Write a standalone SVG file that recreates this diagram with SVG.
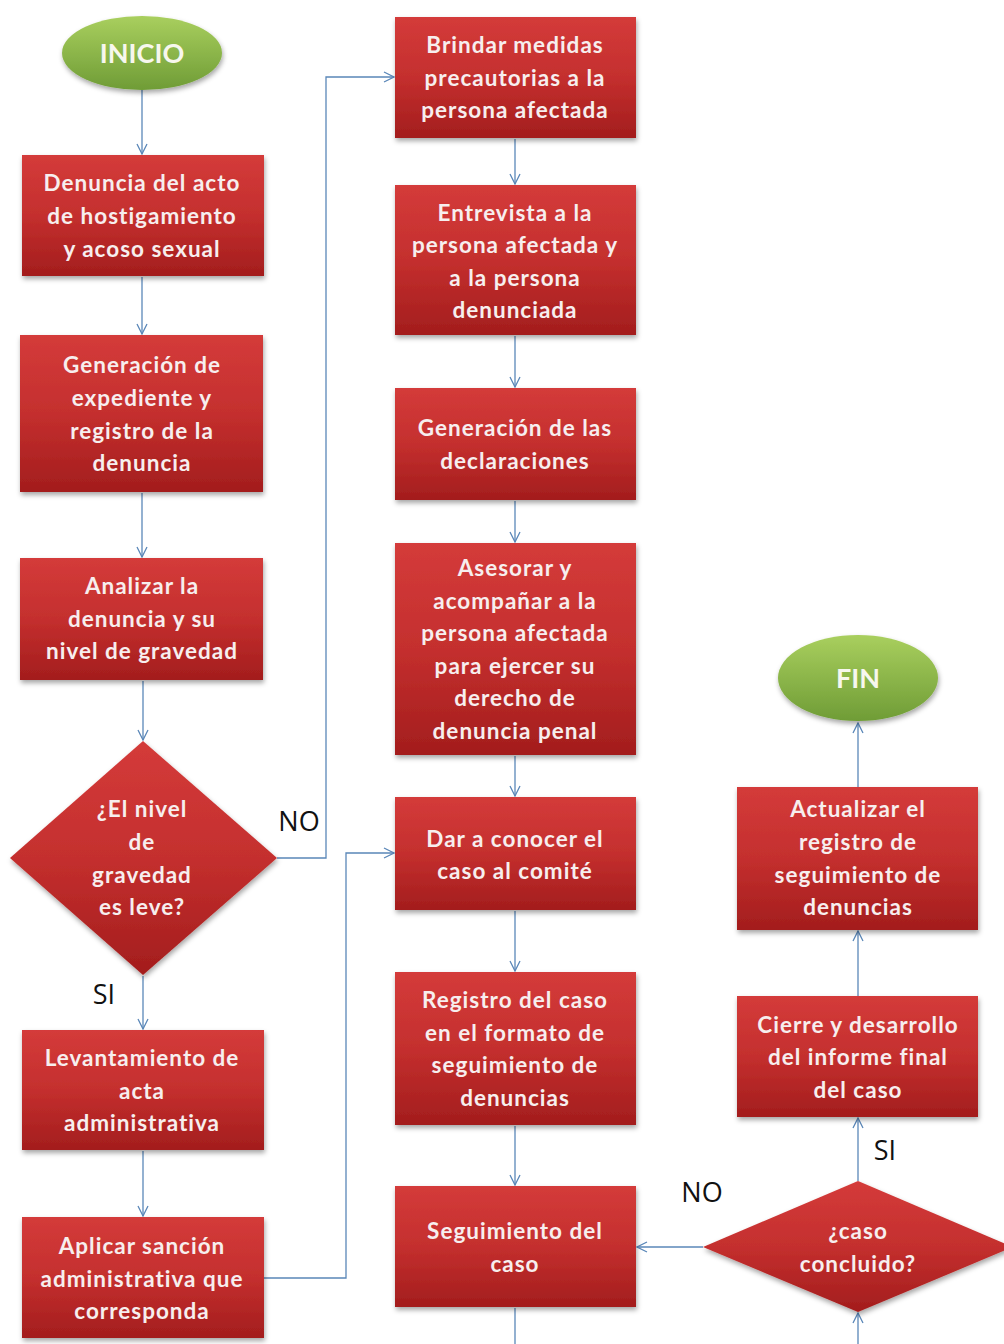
<svg xmlns="http://www.w3.org/2000/svg" width="1004" height="1344" viewBox="0 0 1004 1344">
<defs>
<linearGradient id="red" x1="0" y1="0" x2="0" y2="1">
<stop offset="0" stop-color="#d43b3a"/>
<stop offset="0.5" stop-color="#c42f2e"/>
<stop offset="1" stop-color="#a31d1d"/>
</linearGradient>
<linearGradient id="green" x1="0" y1="0" x2="0" y2="1">
<stop offset="0" stop-color="#a9cf5e"/>
<stop offset="1" stop-color="#6f9c36"/>
</linearGradient>
<filter id="sh" x="-10%" y="-10%" width="120%" height="125%">
<feGaussianBlur in="SourceAlpha" stdDeviation="2.5"/>
<feOffset dx="1" dy="3" result="b"/>
<feFlood flood-color="#000" flood-opacity="0.35"/>
<feComposite in2="b" operator="in"/>
<feMerge><feMergeNode/><feMergeNode in="SourceGraphic"/></feMerge>
</filter>
<marker id="arr" viewBox="0 0 12 12" refX="11" refY="6" markerWidth="12" markerHeight="12" markerUnits="userSpaceOnUse" orient="auto">
<path d="M1,1 L11,6 L1,11" fill="none" stroke="#5a87b8" stroke-width="1.3"/>
</marker>
</defs>
<style>
.box{fill:url(#red);filter:url(#sh)}
.oval{fill:url(#green);filter:url(#sh)}
.t{font-family:Lato,"Open Sans","Liberation Sans",sans-serif;font-weight:bold;font-size:22.5px;letter-spacing:1px;fill:#f7eeee;text-anchor:middle}
.to{font-family:Lato,"Open Sans","Liberation Sans",sans-serif;font-weight:bold;font-size:27px;fill:#f7f7ee;text-anchor:middle}
.lbl{font-family:"Open Sans","Liberation Sans",sans-serif;font-size:27px;fill:#111;text-anchor:middle}
.c{fill:none;stroke:#5a87b8;stroke-width:1.3}
</style>
<rect width="1004" height="1344" fill="#fff"/>
<g id="connectors">
<path class="c" d="M142,90 V154" marker-end="url(#arr)"/>
<path class="c" d="M142,277 V334" marker-end="url(#arr)"/>
<path class="c" d="M142,493 V557" marker-end="url(#arr)"/>
<path class="c" d="M143,681 V740" marker-end="url(#arr)"/>
<path class="c" d="M143,976 V1029" marker-end="url(#arr)"/>
<path class="c" d="M143,1151 V1216" marker-end="url(#arr)"/>
<path class="c" d="M277,858 H326 V77 H394" marker-end="url(#arr)"/>
<path class="c" d="M264,1278 H346 V853 H394" marker-end="url(#arr)"/>
<path class="c" d="M515,139 V184" marker-end="url(#arr)"/>
<path class="c" d="M515,336 V387" marker-end="url(#arr)"/>
<path class="c" d="M515,501 V542" marker-end="url(#arr)"/>
<path class="c" d="M515,756 V796" marker-end="url(#arr)"/>
<path class="c" d="M515,911 V971" marker-end="url(#arr)"/>
<path class="c" d="M515,1126 V1185" marker-end="url(#arr)"/>
<path class="c" d="M515,1308 V1360 H858 V1313" marker-end="url(#arr)"/>
<path class="c" d="M703,1247 H637" marker-end="url(#arr)"/>
<path class="c" d="M858,1181 V1118" marker-end="url(#arr)"/>
<path class="c" d="M858,996 V931" marker-end="url(#arr)"/>
<path class="c" d="M858,787 V723" marker-end="url(#arr)"/>
<text class="lbl" x="299" y="831">NO</text>
<text class="lbl" x="104" y="1004">SI</text>
<text class="lbl" x="702" y="1202">NO</text>
<text class="lbl" x="885" y="1160">SI</text>
</g>
<g id="inicio"><ellipse class="oval" cx="142" cy="53" rx="80" ry="37"/><text class="to" x="142" y="63">INICIO</text></g>
<g id="denuncia"><rect class="box" x="22" y="155" width="242" height="121"/>
<text class="t" x="142" y="191">Denuncia del acto</text><text class="t" x="142" y="224">de hostigamiento</text><text class="t" x="142" y="257">y acoso sexual</text></g>
<g id="generacion"><rect class="box" x="20" y="335" width="243" height="157"/>
<text class="t" x="142" y="373">Generación de</text><text class="t" x="142" y="406">expediente y</text><text class="t" x="142" y="439">registro de la</text><text class="t" x="142" y="471">denuncia</text></g>
<g id="analizar"><rect class="box" x="20" y="558" width="243" height="122"/>
<text class="t" x="142" y="594">Analizar la</text><text class="t" x="142" y="627">denuncia y su</text><text class="t" x="142" y="659">nivel de gravedad</text></g>
<g id="decision1"><polygon class="box" points="143,741 277,858 143,975 10,858"/>
<text class="t" x="142" y="817">¿El nivel</text><text class="t" x="142" y="850">de</text><text class="t" x="142" y="883">gravedad</text><text class="t" x="142" y="915">es leve?</text></g>
<g id="levantamiento"><rect class="box" x="22" y="1030" width="242" height="120"/>
<text class="t" x="142" y="1066">Levantamiento de</text><text class="t" x="142" y="1099">acta</text><text class="t" x="142" y="1131">administrativa</text></g>
<g id="aplicar"><rect class="box" x="22" y="1217" width="242" height="121"/>
<text class="t" x="142" y="1254">Aplicar sanción</text><text class="t" x="142" y="1287">administrativa que</text><text class="t" x="142" y="1319">corresponda</text></g>
<g id="brindar"><rect class="box" x="395" y="17" width="241" height="121"/>
<text class="t" x="515" y="53">Brindar medidas</text><text class="t" x="515" y="86">precautorias a la</text><text class="t" x="515" y="118">persona afectada</text></g>
<g id="entrevista"><rect class="box" x="395" y="185" width="241" height="150"/>
<text class="t" x="515" y="221">Entrevista a la</text><text class="t" x="515" y="253">persona afectada y</text><text class="t" x="515" y="286">a la persona</text><text class="t" x="515" y="318">denunciada</text></g>
<g id="declaraciones"><rect class="box" x="395" y="388" width="241" height="112"/>
<text class="t" x="515" y="436">Generación de las</text><text class="t" x="515" y="469">declaraciones</text></g>
<g id="asesorar"><rect class="box" x="395" y="543" width="241" height="212"/>
<text class="t" x="515" y="576">Asesorar y</text><text class="t" x="515" y="609">acompañar a la</text><text class="t" x="515" y="641">persona afectada</text><text class="t" x="515" y="674">para ejercer su</text><text class="t" x="515" y="706">derecho de</text><text class="t" x="515" y="739">denuncia penal</text></g>
<g id="comite"><rect class="box" x="395" y="797" width="241" height="113"/>
<text class="t" x="515" y="847">Dar a conocer el</text><text class="t" x="515" y="879">caso al comité</text></g>
<g id="registro"><rect class="box" x="395" y="972" width="241" height="153"/>
<text class="t" x="515" y="1008">Registro del caso</text><text class="t" x="515" y="1041">en el formato de</text><text class="t" x="515" y="1073">seguimiento de</text><text class="t" x="515" y="1106">denuncias</text></g>
<g id="seguimiento"><rect class="box" x="395" y="1186" width="241" height="121"/>
<text class="t" x="515" y="1239">Seguimiento del</text><text class="t" x="515" y="1272">caso</text></g>
<g id="fin"><ellipse class="oval" cx="858" cy="678" rx="80" ry="43"/><text class="to" x="858" y="688">FIN</text></g>
<g id="actualizar"><rect class="box" x="737" y="787" width="241" height="143"/>
<text class="t" x="858" y="817">Actualizar el</text><text class="t" x="858" y="850">registro de</text><text class="t" x="858" y="883">seguimiento de</text><text class="t" x="858" y="915">denuncias</text></g>
<g id="cierre"><rect class="box" x="737" y="996" width="241" height="121"/>
<text class="t" x="858" y="1033">Cierre y desarrollo</text><text class="t" x="858" y="1065">del informe final</text><text class="t" x="858" y="1098">del caso</text></g>
<g id="decision2"><polygon class="box" points="858,1181 1013,1247 858,1312 703,1247"/>
<text class="t" x="858" y="1239">¿caso</text><text class="t" x="858" y="1272">concluido?</text></g>
</svg>
